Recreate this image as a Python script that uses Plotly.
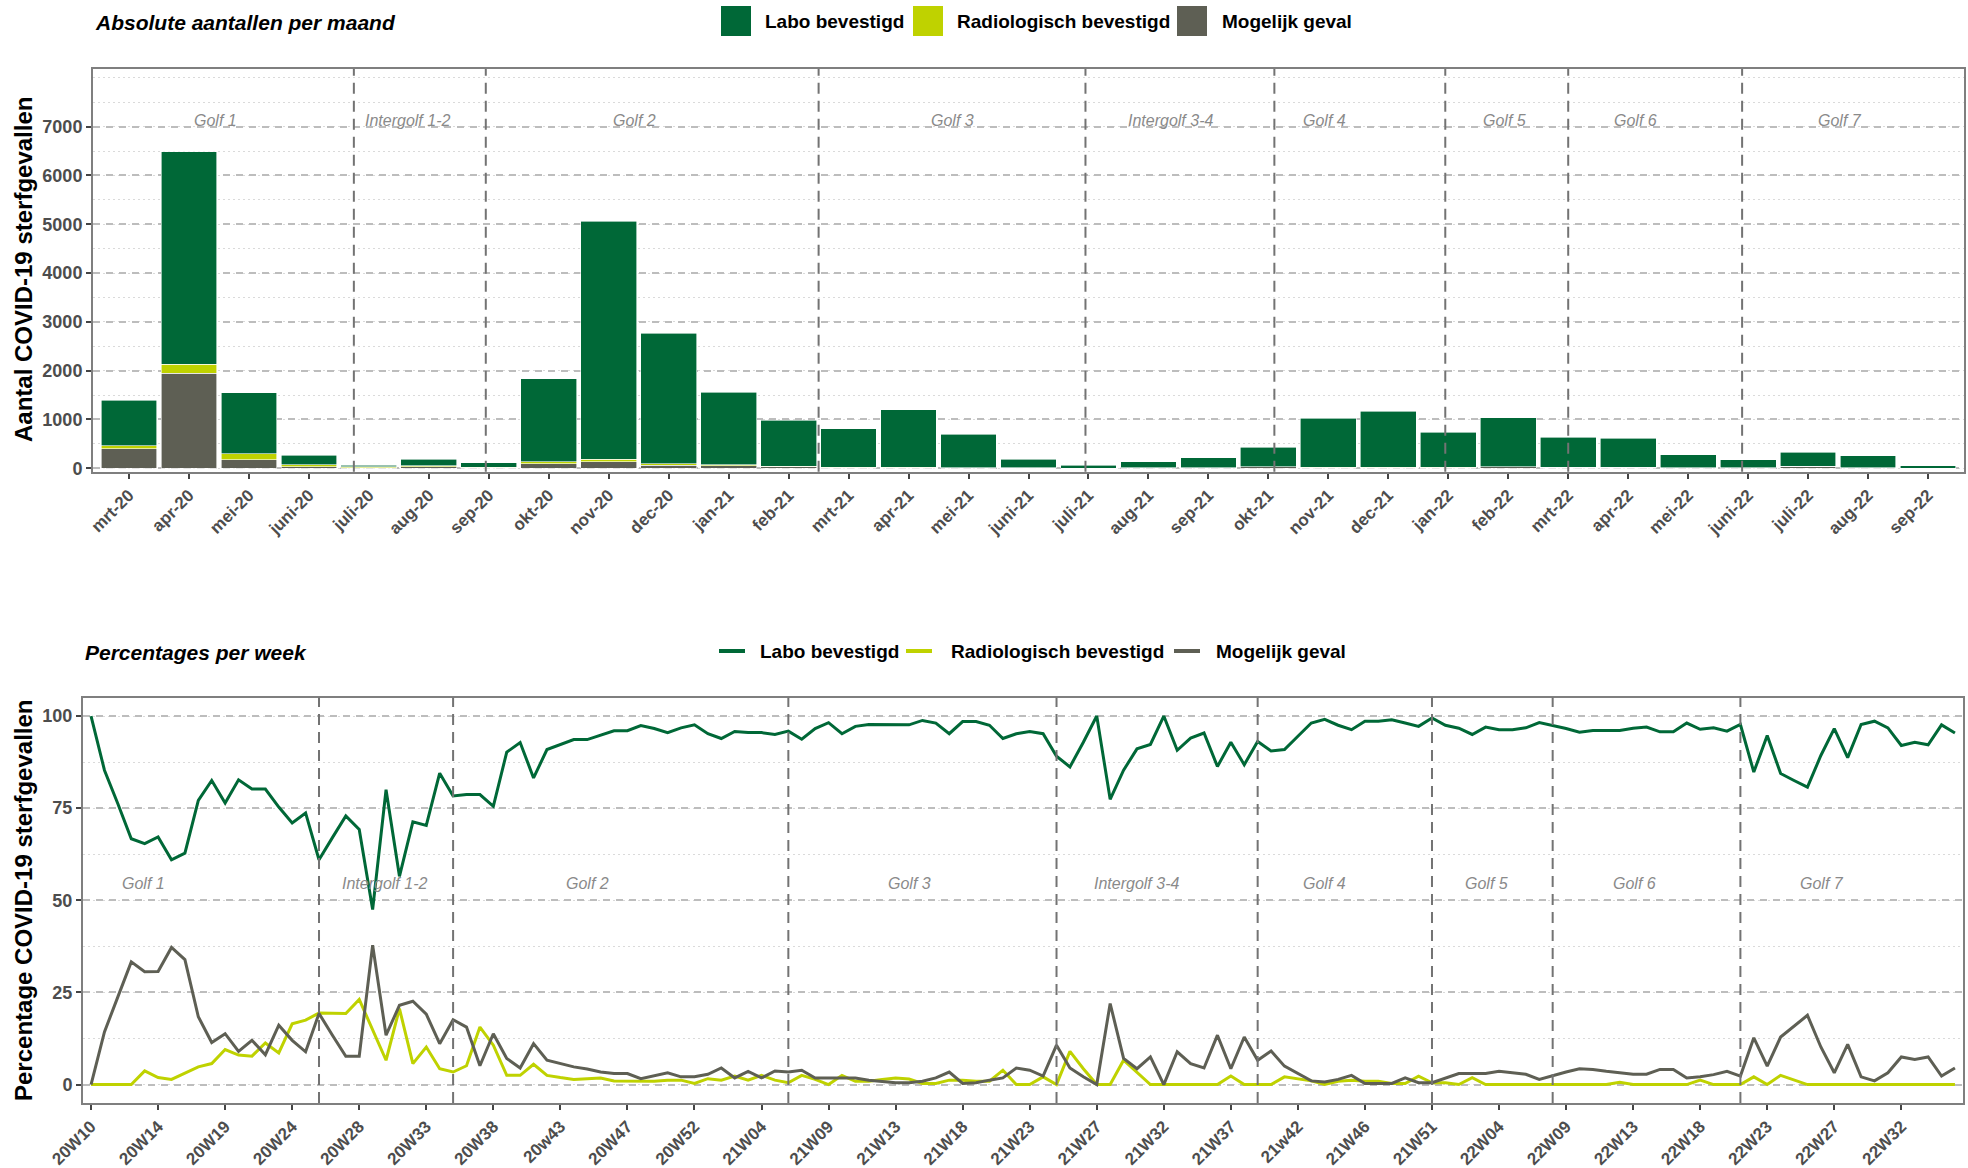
import plotly.graph_objects as go

W, H = 1968, 1168

# ---------------- data: monthly absolute counts ----------------
months = ["mrt-20", "apr-20", "mei-20", "juni-20", "juli-20", "aug-20", "sep-20", "okt-20",
          "nov-20", "dec-20", "jan-21", "feb-21", "mrt-21", "apr-21", "mei-21", "juni-21",
          "juli-21", "aug-21", "sep-21", "okt-21", "nov-21", "dec-21", "jan-22", "feb-22",
          "mrt-22", "apr-22", "mei-22", "juni-22", "juli-22", "aug-22", "sep-22"]
labo_month = [940, 4353, 1249, 199, 35, 137, 94, 1708, 4875, 2679, 1493, 942, 780, 1176, 680, 179,
              57, 118, 205, 398, 1003, 1149, 722, 1005, 612, 592, 264, 158, 286, 240, 52]
radio_month = [54, 177, 129, 34, 13, 21, 12, 41, 55, 28, 20, 15, 10, 12, 6, 2,
               2, 3, 1, 2, 10, 9, 5, 2, 0, 1, 1, 2, 3, 0, 0]
mog_month = [403, 1950, 171, 34, 14, 27, 10, 89, 130, 61, 48, 27, 16, 12, 10, 4,
             3, 9, 13, 30, 10, 8, 16, 29, 22, 20, 8, 10, 38, 12, 3]

# ---------------- data: weekly percentages ----------------
week_tick_labels = ["20W10", "20W14", "20W19", "20W24", "20W28", "20W33", "20W38", "20w43",
                    "20W47", "20W52", "21W04", "21W09", "21W13", "21W18", "21W23", "21W27",
                    "21W32", "21W37", "21w42", "21W46", "21W51", "22W04", "22W09", "22W13",
                    "22W18", "22W23", "22W27", "22W32"]
labo_pct = [100, 85.3, 76.2, 66.7, 65.4, 67.2, 61.0, 62.8, 77.1, 82.5, 76.4, 82.7, 80.2, 80.2, 75.3,
            71.0, 73.7, 61.0, 67.0, 72.9, 69.2, 47.5, 80.0, 56.5, 71.3, 70.3, 84.5, 78.3, 78.7,
            78.7, 75.5, 90.2, 92.8, 83.2, 90.9, 92.2, 93.6, 93.6, 94.7, 96.0, 96.0, 97.4, 96.6,
            95.5, 96.8, 97.6, 95.2, 93.9, 95.8, 95.5, 95.5, 95.0, 95.9, 93.7, 96.6, 98.2,
            95.2, 97.2, 97.7, 97.7, 97.7, 97.6, 98.8, 98.1, 95.2, 98.5, 98.5, 97.5, 93.9, 95.2,
            95.8, 95.2, 89.1, 86.2, 92.9, 100, 77.4, 85.3, 91.1, 92.3, 100, 90.7, 94.0, 95.4,
            86.3, 92.9, 86.8, 93.1, 90.5, 90.9, 94.5, 98.1, 99.1, 97.5, 96.3, 98.6, 98.6, 99.0,
            98.1, 97.2, 99.5, 97.5, 96.7, 95.0, 97.0, 96.3, 96.3, 96.8, 98.2, 97.5, 96.6, 95.6,
            96.1, 96.1, 96.1, 96.7, 97.0, 95.7, 95.7, 98.1, 96.4, 96.8, 95.9, 97.7, 84.8, 94.7,
            84.4, 82.5, 80.7, 89.3, 96.6, 88.7, 97.7, 98.6, 96.8, 92.0, 92.9, 92.2, 97.6, 95.4]
radio_pct = [0, 0, 0, 0, 3.7, 1.9, 1.4, 3.0, 4.8, 5.7, 9.5, 8.0, 7.7, 11.3, 8.6,
             16.5, 17.5, 19.4, 19.3, 19.3, 23.1, 14.7, 6.6, 20.6, 5.7, 10.2, 4.3, 3.4, 5.1,
             15.6, 10.7, 2.5, 2.5, 5.5, 2.5, 1.9, 1.4, 1.6, 1.8, 1.0, 1.0, 0.9, 0.9,
             1.2, 1.2, 0.3, 1.6, 1.2, 2.3, 1.2, 2.5, 1.2, 0.5, 2.5, 1.4, 0,
             2.5, 0.9, 0.9, 1.4, 1.8, 1.5, 0.3, 0.3, 1.2, 1.2, 0.9, 0.9, 3.9, 0,
             0, 2.1, 0, 9.0, 4.3, 0, 0, 6.6, 3.4, 0, 0, 0, 0, 0,
             0, 2.3, 0, 0, 0, 2.1, 1.6, 1.0, 0, 0.9, 1.2, 0.9, 0.9, 0.3,
             0.3, 2.3, 0.5, 0.5, 0, 1.9, 0, 0, 0, 0, 0, 0, 0, 0,
             0, 0, 0.6, 0, 0, 0, 0, 0, 1.2, 0, 0, 0, 2.1, 0,
             2.5, 1.2, 0, 0, 0, 0, 0, 0, 0, 0, 0, 0, 0, 0]
mog_pct = [0, 14.3, 23.8, 33.3, 30.6, 30.7, 37.2, 33.9, 18.4, 11.4, 13.8, 9.0, 12.0, 8.1, 16.1,
           12.0, 8.9, 19.3, 13.4, 7.7, 7.7, 37.8, 13.4, 21.5, 22.6, 19.1, 11.1, 17.6, 15.6,
           5.1, 13.8, 7.1, 4.5, 11.1, 6.6, 5.7, 4.8, 4.2, 3.4, 3.0, 3.0, 1.6, 2.4,
           3.2, 2.1, 2.1, 2.8, 4.5, 1.8, 3.6, 1.8, 3.7, 3.4, 3.9, 1.8, 1.8,
           1.8, 1.8, 1.2, 0.9, 0.5, 0.5, 0.9, 1.8, 3.4, 0.3, 0.5, 1.2, 1.8, 4.5,
           3.9, 2.3, 10.7, 4.5, 2.1, 0, 22.0, 7.1, 4.3, 7.5, 0, 8.9, 5.7, 4.5,
           13.4, 4.3, 12.9, 6.6, 9.1, 5.0, 3.0, 1.0, 0.7, 1.4, 2.5, 0.3, 0.3, 0.3,
           1.8, 0.5, 0.5, 1.8, 3.0, 3.0, 3.0, 3.6, 3.2, 2.8, 1.4, 2.5, 3.4, 4.3,
           4.1, 3.6, 3.2, 2.8, 2.8, 4.1, 4.1, 1.8, 2.1, 2.7, 3.6, 2.3, 12.7, 5.0,
           12.9, 15.8, 18.8, 10.2, 3.2, 10.9, 2.1, 1.0, 3.2, 7.5, 6.8, 7.5, 2.3, 4.5]

# ---------------- waves ----------------
wave_names = ["Golf 1", "Intergolf 1-2", "Golf 2", "Golf 3", "Intergolf 3-4",
              "Golf 4", "Golf 5", "Golf 6", "Golf 7"]
top_wave_bounds = [3.75, 5.95, 11.5, 15.95, 19.1, 21.95, 24.0, 26.9]
top_wave_label_x = [1.44, 4.65, 8.43, 13.74, 17.37, 19.93, 22.94, 25.13, 28.53]
top_wave_label_y = 7120
bottom_wave_bounds = [17, 27, 52, 72, 87, 100, 109, 123]
bottom_wave_label_x = [3.9, 21.9, 37.0, 61.0, 78.0, 92.0, 104.1, 115.1, 129.1]
bottom_wave_label_y = 54.5

series_names = ["Labo bevestigd", "Radiologisch bevestigd", "Mogelijk geval"]
C_LABO, C_RADIO, C_MOG = "#006837", "#BFD200", "#5E5F54"
colors = [C_LABO, C_RADIO, C_MOG]

FONT = "Liberation Sans, Arial, sans-serif"


def px(x):
    return x / W


def py(y):
    return 1 - y / H


fig = go.Figure()

# ---- top: stacked bars ----
xm = list(range(len(months)))
for vals, name, col in [(mog_month, series_names[2], C_MOG),
                        (radio_month, series_names[1], C_RADIO),
                        (labo_month, series_names[0], C_LABO)]:
    fig.add_trace(go.Bar(x=xm, y=vals, name=name, width=0.93,
                         marker=dict(color=col, line=dict(color="white", width=0.6)),
                         xaxis="x", yaxis="y", showlegend=False))

# ---- bottom: lines ----
xw = list(range(len(labo_pct)))
for vals, name, col in [(labo_pct, series_names[0], C_LABO),
                        (radio_pct, series_names[1], C_RADIO),
                        (mog_pct, series_names[2], C_MOG)]:
    fig.add_trace(go.Scatter(x=xw, y=vals, name=name, mode="lines",
                             line=dict(color=col, width=3),
                             xaxis="x2", yaxis="y2", showlegend=False))

grid_major = dict(showgrid=True, gridcolor="#BDBDBD", gridwidth=2, griddash="7px,6px")
border = dict(showline=True, linecolor="#7F7F7F", linewidth=2, mirror=True, zeroline=False)
tick_font = dict(family=FONT, size=17, color="#4D4D4D", weight="bold")
ytick_font = dict(family=FONT, size=18, color="#4D4D4D", weight="bold")

fig.update_layout(
    template="none",
    width=W, height=H,
    margin=dict(l=0, r=0, t=0, b=0),
    paper_bgcolor="white", plot_bgcolor="white",
    font=dict(family=FONT),
    barmode="stack",
    showlegend=False,
    xaxis=dict(domain=[px(93), px(1964)], anchor="y", range=[-0.6, len(months) - 0.4],
               tickmode="array", tickvals=xm, ticktext=months, tickangle=-45,
               ticks="outside", ticklen=5, tickwidth=2, tickcolor="#444444",
               tickfont=tick_font, showgrid=False, automargin=False, **border),
    yaxis=dict(domain=[py(471.7), py(69)], anchor="x", range=[-70, 8180],
               tickmode="array", tickvals=[0, 1000, 2000, 3000, 4000, 5000, 6000, 7000],
               ticks="outside", ticklen=5, tickwidth=2, tickcolor="#444444",
               tickfont=ytick_font, automargin=False,
               minor=dict(tickmode="linear", tick0=0, dtick=500, showgrid=True,
                          gridcolor="#DADADA", gridwidth=1, griddash="2px,3px", ticks=""),
               **grid_major, **border),
    xaxis2=dict(domain=[px(83), px(1963)], anchor="y2", range=[-0.6, len(labo_pct) - 0.4],
                tickmode="array", tickvals=[5 * i for i in range(len(week_tick_labels))],
                ticktext=week_tick_labels, tickangle=-45,
                ticks="outside", ticklen=5, tickwidth=2, tickcolor="#444444",
                tickfont=tick_font, showgrid=False, automargin=False, **border),
    yaxis2=dict(domain=[py(1103), py(697.6)], anchor="x2", range=[-5, 105],
                tickmode="array", tickvals=[0, 25, 50, 75, 100],
                ticks="outside", ticklen=5, tickwidth=2, tickcolor="#444444",
                tickfont=ytick_font, automargin=False,
                minor=dict(tickmode="linear", tick0=0, dtick=12.5, showgrid=True,
                           gridcolor="#DADADA", gridwidth=1, griddash="2px,3px", ticks=""),
                **grid_major, **border),
)

shapes = []
annotations = []
wave_line = dict(color="#737373", width=2, dash="11px,7px")
for b in top_wave_bounds:
    shapes.append(dict(type="line", xref="x", yref="y domain", x0=b, x1=b, y0=0, y1=1,
                       line=wave_line, layer="above"))
for b in bottom_wave_bounds:
    shapes.append(dict(type="line", xref="x2", yref="y2 domain", x0=b, x1=b, y0=0, y1=1,
                       line=wave_line, layer="above"))

wave_font = dict(family=FONT, size=16, color="#8A8A8A", style="italic")
for name, xv in zip(wave_names, top_wave_label_x):
    annotations.append(dict(xref="x", yref="y", x=xv, y=top_wave_label_y, text=name,
                            showarrow=False, font=wave_font, xanchor="center", yanchor="middle"))
for name, xv in zip(wave_names, bottom_wave_label_x):
    annotations.append(dict(xref="x2", yref="y2", x=xv, y=bottom_wave_label_y, text=name,
                            showarrow=False, font=wave_font, xanchor="center", yanchor="middle"))

# titles
title_font = dict(family=FONT, size=21, color="black", style="italic", weight="bold")
annotations.append(dict(xref="paper", yref="paper", x=px(93), y=py(23),
                        text="Absolute aantallen per maand", showarrow=False,
                        xanchor="left", yanchor="middle", font=title_font))
annotations.append(dict(xref="paper", yref="paper", x=px(83), y=py(652),
                        text="Percentages per week", showarrow=False,
                        xanchor="left", yanchor="middle", font=title_font))

# y axis titles
ytitle_font = dict(family=FONT, size=24, color="black", weight="bold")
annotations.append(dict(xref="paper", yref="paper", x=px(23), y=py(270),
                        text="Aantal COVID-19 sterfgevallen", textangle=-90, showarrow=False,
                        xanchor="center", yanchor="middle", font=ytitle_font))
annotations.append(dict(xref="paper", yref="paper", x=px(23), y=py(900),
                        text="Percentage COVID-19 sterfgevallen", textangle=-90, showarrow=False,
                        xanchor="center", yanchor="middle", font=ytitle_font))

# manual legends
legend_font = dict(family=FONT, size=19, color="black", weight="bold")
sq_x = [721, 913, 1177]
sq_text_x = [763, 955, 1220]
for name, col, x0, tx in zip(series_names, colors, sq_x, sq_text_x):
    shapes.append(dict(type="rect", xref="paper", yref="paper",
                       x0=px(x0), x1=px(x0 + 30), y0=py(36), y1=py(6),
                       fillcolor=col, line=dict(width=0)))
    annotations.append(dict(xref="paper", yref="paper", x=px(tx), y=py(21), text=name,
                            showarrow=False, xanchor="left", yanchor="middle", font=legend_font))

ln_x = [719, 906, 1174]
ln_text_x = [758, 949, 1214]
for name, col, x0, tx in zip(series_names, colors, ln_x, ln_text_x):
    shapes.append(dict(type="line", xref="paper", yref="paper",
                       x0=px(x0), x1=px(x0 + 26), y0=py(651), y1=py(651),
                       line=dict(color=col, width=4)))
    annotations.append(dict(xref="paper", yref="paper", x=px(tx), y=py(651), text=name,
                            showarrow=False, xanchor="left", yanchor="middle", font=legend_font))

fig.update_layout(shapes=shapes, annotations=annotations)
fig.write_html("out.html", config={"displayModeBar": False},
               post_script="document.body.style.margin='0px';document.body.style.overflow='hidden';")
